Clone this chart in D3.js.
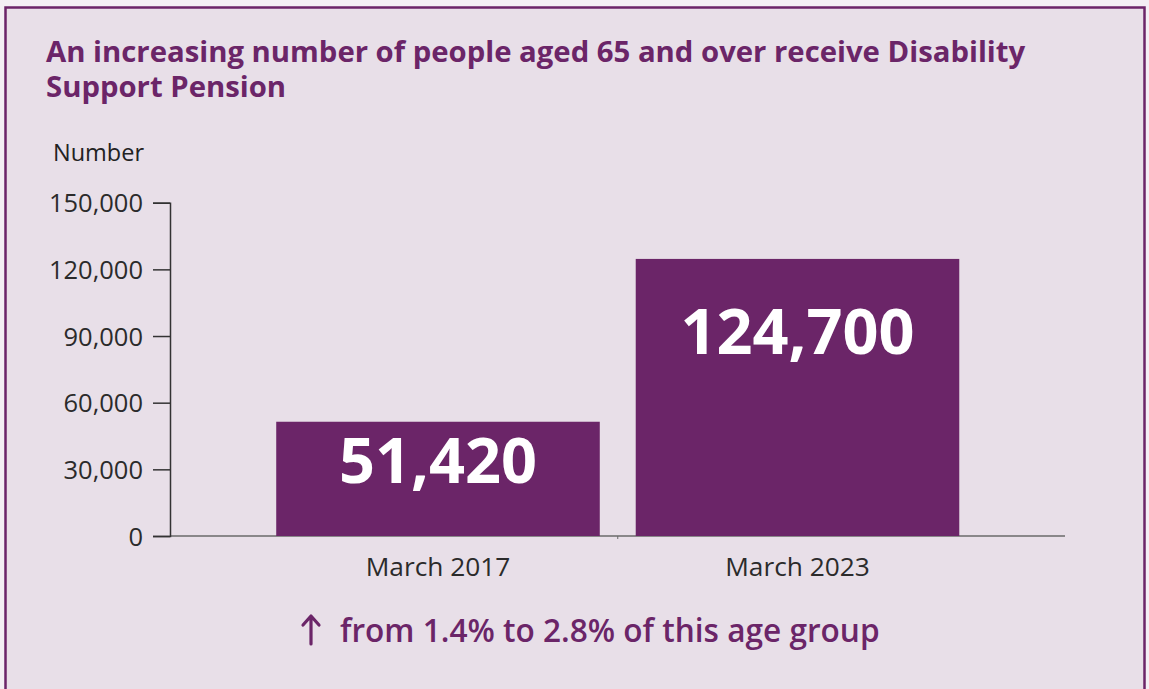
<!DOCTYPE html>
<html>
<head>
<meta charset="utf-8">
<script src="https://cdn.jsdelivr.net/npm/d3@7"></script>
<style>
  html, body { margin: 0; padding: 0; background: #f3eff4; }
  svg { display: block; }
</style>
</head>
<body>
<svg id="chart" width="1149" height="689"></svg>
<script>
// Disability Support Pension recipients aged 65 and over
const categories = ["March 2017", "March 2023"];
const recipients = [51420, 124700];
const yTicks = [0, 30000, 60000, 90000, 120000, 150000];
const titleLines = [
  "An increasing number of people aged 65 and over receive Disability",
  "Support Pension"
];
const yAxisLabel = "Number";
const footnote = "from 1.4% to 2.8% of this age group";

const purple = "#6b2568";
const svg = d3.select("#chart");

// Panel with purple frame
svg.append("rect")
  .attr("x", 5.5).attr("y", 7.5)
  .attr("width", 1139).attr("height", 700)
  .attr("fill", "#e8dfe8")
  .attr("stroke", purple).attr("stroke-width", 2.5);

// Title
svg.append("g").selectAll("text").data(titleLines).join("text")
  .attr("x", 46)
  .attr("y", (d, i) => 62 + i * 35)
  .attr("font-family", "'Open Sans', sans-serif")
  .attr("font-weight", 700)
  .attr("font-size", 29.3)
  .attr("fill", purple)
  .text(d => d);

const plot = { left: 170, right: 1065, top: 202.7, bottom: 536 };

const y = d3.scaleLinear().domain([0, 150000]).range([plot.bottom, plot.top]);
const x = d3.scaleBand().domain(categories)
  .range([258.25, 977.25]).paddingInner(0.1).paddingOuter(0.05);

// Axis caption
svg.append("text")
  .attr("x", 53).attr("y", 161)
  .attr("font-family", "'Open Sans', sans-serif")
  .attr("font-size", 23.5)
  .attr("fill", "#222")
  .text(yAxisLabel);

// Baseline across the plot
svg.append("line")
  .attr("x1", plot.left).attr("x2", plot.right)
  .attr("y1", y(0)).attr("y2", y(0))
  .attr("stroke", "#6a6a6a").attr("stroke-width", 1.5);

// Small separator tick between the categories
const sepX = x(categories[1]) - x.step() * x.paddingInner() / 2;
svg.append("line")
  .attr("x1", sepX).attr("x2", sepX)
  .attr("y1", y(0)).attr("y2", y(0) + 3)
  .attr("stroke", "#6a6a6a").attr("stroke-width", 1);

// Bars
svg.append("g").selectAll("rect").data(recipients).join("rect")
  .attr("x", (d, i) => x(categories[i]))
  .attr("y", d => y(d))
  .attr("width", x.bandwidth())
  .attr("height", d => y(0) - y(d))
  .attr("fill", purple);

// Y axis
const yAxis = d3.axisLeft(y)
  .tickValues(yTicks)
  .tickFormat(d3.format(","))
  .tickSize(17)
  .tickPadding(10);
const gy = svg.append("g")
  .attr("transform", `translate(${plot.left},0)`)
  .call(yAxis);
gy.select(".domain").attr("stroke", "#333").attr("stroke-width", 1.5);
gy.selectAll(".tick line").attr("stroke", "#333").attr("stroke-width", 1.5);
gy.selectAll(".tick text")
  .attr("font-family", "'Open Sans', sans-serif")
  .attr("font-size", 25.5)
  .attr("font-weight", 400)
  .attr("fill", "#2b2b2b")
  .attr("dy", "0.36em");

// X axis labels
const xAxis = d3.axisBottom(x).tickSize(0).tickPadding(31);
const gx = svg.append("g")
  .attr("transform", `translate(0,${y(0)})`)
  .call(xAxis);
gx.select(".domain").remove();
gx.selectAll(".tick text")
  .attr("font-family", "'Open Sans', sans-serif")
  .attr("font-size", 26.3)
  .attr("fill", "#2b2b2b")
  .attr("dy", "0.36em");

// Value labels inside the bars
svg.append("g").selectAll("text").data(recipients).join("text")
  .attr("x", (d, i) => x(categories[i]) + x.bandwidth() / 2)
  .attr("y", d => Math.min(y(d) + 95, y(0) - 53))
  .attr("text-anchor", "middle")
  .attr("font-family", "'Open Sans', sans-serif")
  .attr("font-weight", 700)
  .attr("font-size", 63)
  .attr("fill", "#ffffff")
  .text(d => d3.format(",")(d));

// Footnote with an upward arrow
const foot = svg.append("g");
foot.append("path")
  .attr("d", "M311,644V616M303,625L311,616L319,625")
  .attr("fill", "none")
  .attr("stroke", purple)
  .attr("stroke-width", 3.2)
  .attr("stroke-linecap", "round")
  .attr("stroke-linejoin", "round");
foot.append("text")
  .attr("x", 340).attr("y", 642)
  .attr("font-family", "'Open Sans', sans-serif")
  .attr("font-weight", 600)
  .attr("font-size", 31.6)
  .attr("fill", purple)
  .text(footnote);
</script>
</body>
</html>
